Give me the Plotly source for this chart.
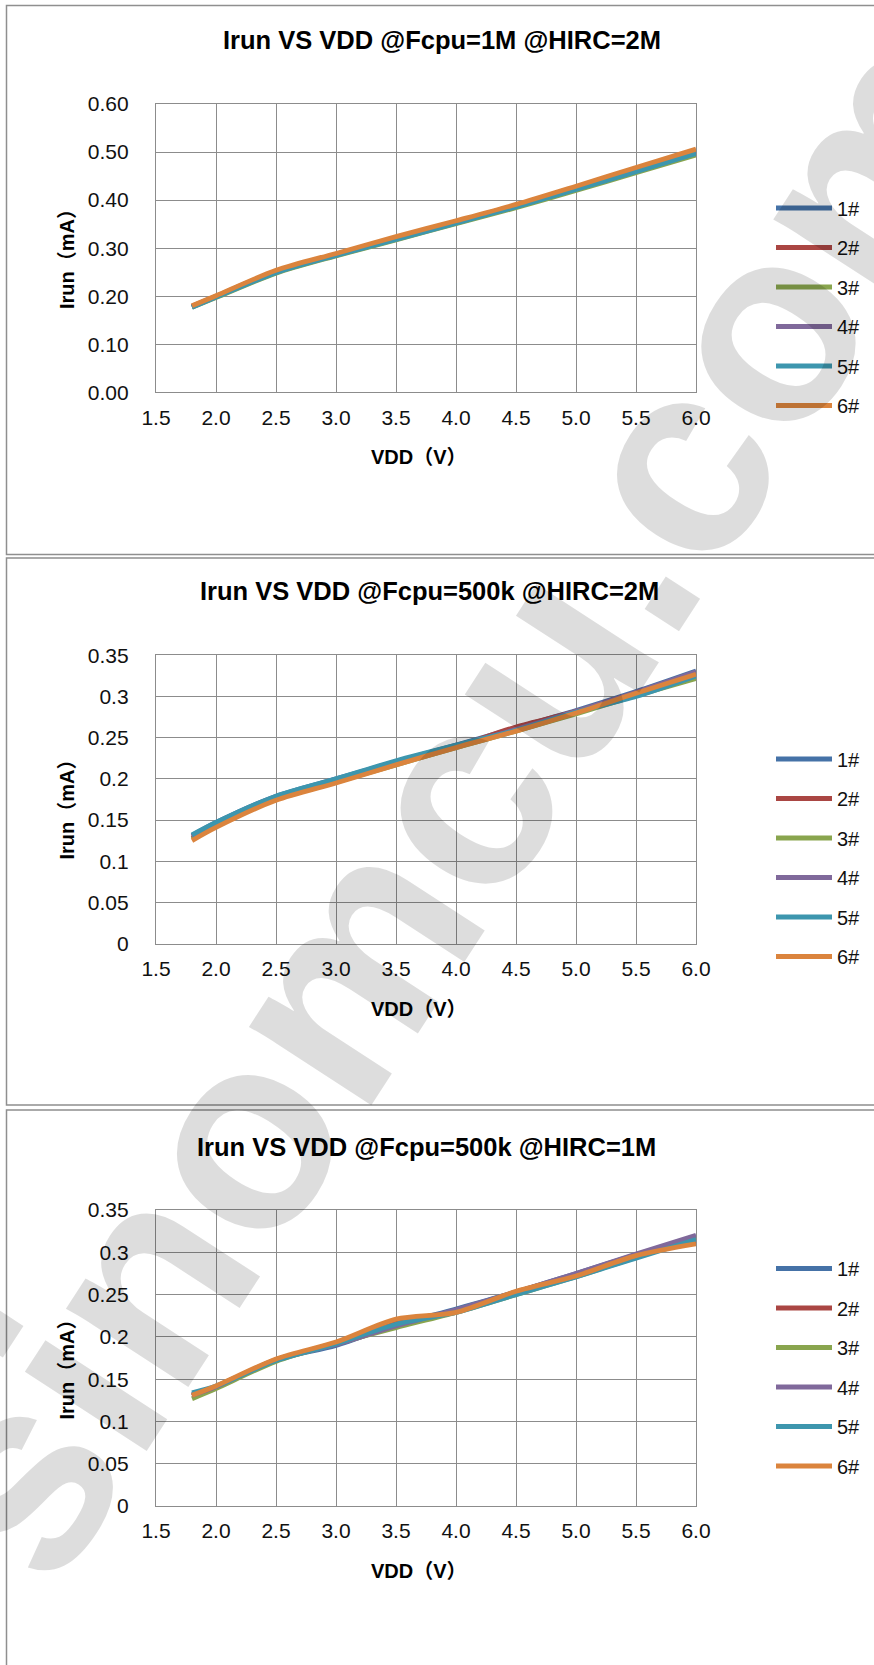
import plotly.graph_objects as go

W, H = 874, 1665

# ---------------- data ----------------
vdd = [1.8, 2.0, 2.5, 3.0, 3.5, 4.0, 4.5, 5.0, 5.5, 6.0]
samples = ["1#", "2#", "3#", "4#", "5#", "6#"]
colors = ["#4572A7", "#AA4643", "#89A54E", "#80699B", "#3D96AE", "#DB843D"]
titles = ["Irun VS VDD @Fcpu=1M @HIRC=2M",
          "Irun VS VDD @Fcpu=500k @HIRC=2M",
          "Irun VS VDD @Fcpu=500k @HIRC=1M"]
x_title = "VDD（V）"
y_title = "Irun（mA）"
x_ticks = [1.5, 2.0, 2.5, 3.0, 3.5, 4.0, 4.5, 5.0, 5.5, 6.0]

# chart 1: Fcpu=1M, HIRC=2M
c1_1 = [0.178, 0.199, 0.250, 0.286, 0.320, 0.354, 0.387, 0.424, 0.462, 0.499]
c1_2 = [0.179, 0.200, 0.252, 0.287, 0.322, 0.355, 0.389, 0.426, 0.465, 0.503]
c1_3 = [0.177, 0.197, 0.248, 0.284, 0.317, 0.351, 0.384, 0.420, 0.457, 0.494]
c1_4 = [0.178, 0.199, 0.251, 0.286, 0.320, 0.354, 0.388, 0.425, 0.463, 0.500]
c1_5 = [0.177, 0.198, 0.249, 0.285, 0.318, 0.352, 0.386, 0.422, 0.459, 0.497]
c1_6 = [0.180, 0.201, 0.254, 0.289, 0.324, 0.357, 0.391, 0.429, 0.468, 0.506]

# chart 2: Fcpu=500k, HIRC=2M
c2_1 = [0.131, 0.147, 0.179, 0.200, 0.221, 0.241, 0.262, 0.283, 0.306, 0.331]
c2_2 = [0.128, 0.144, 0.177, 0.198, 0.219, 0.239, 0.263, 0.282, 0.305, 0.329]
c2_3 = [0.127, 0.143, 0.175, 0.196, 0.217, 0.238, 0.258, 0.279, 0.301, 0.322]
c2_4 = [0.130, 0.146, 0.178, 0.199, 0.220, 0.240, 0.260, 0.282, 0.305, 0.330]
c2_5 = [0.132, 0.147, 0.179, 0.200, 0.222, 0.241, 0.259, 0.281, 0.300, 0.325]
c2_6 = [0.125, 0.141, 0.174, 0.195, 0.217, 0.238, 0.258, 0.280, 0.304, 0.327]

# chart 3: Fcpu=500k, HIRC=1M
c3_1 = [0.132, 0.141, 0.173, 0.190, 0.214, 0.233, 0.253, 0.275, 0.297, 0.319]
c3_2 = [0.130, 0.141, 0.173, 0.193, 0.218, 0.230, 0.253, 0.273, 0.296, 0.313]
c3_3 = [0.127, 0.139, 0.171, 0.192, 0.211, 0.229, 0.250, 0.271, 0.294, 0.316]
c3_4 = [0.131, 0.141, 0.173, 0.191, 0.213, 0.232, 0.253, 0.275, 0.298, 0.320]
c3_5 = [0.134, 0.142, 0.172, 0.192, 0.215, 0.229, 0.250, 0.271, 0.293, 0.315]
c3_6 = [0.131, 0.142, 0.174, 0.194, 0.221, 0.229, 0.254, 0.272, 0.296, 0.310]

chart_series = [[c1_1, c1_2, c1_3, c1_4, c1_5, c1_6],
                [c2_1, c2_2, c2_3, c2_4, c2_5, c2_6],
                [c3_1, c3_2, c3_3, c3_4, c3_5, c3_6]]
y_max = [0.6, 0.35, 0.35]
y_dtick = [0.1, 0.05, 0.05]
y_fmt = [".2f", "", ""]

# ---------------- layout geometry (pixels) ----------------
def px_x(p):
    return p / W

def px_y(p):
    return 1 - p / H

FONT = "Liberation Sans, Arial, Noto Sans CJK SC, sans-serif"
GRID = "#8c8c8c"

geo = [
    dict(top=104.0, bottom=392.3, title=(442, 40.5), ytl=254.6, leg=307.0),
    dict(top=655.4, bottom=943.5, title=(429, 590.5), ytl=805.0, leg=858.0),
    dict(top=1210.0, bottom=1506.1, title=(426.5, 1146.5), ytl=1365.0, leg=1367.5),
]
panels = [(5.5, 554.5), (558.0, 1105.0), (1110.0, 1720.0)]
plot_left, plot_right = 156.0, 696.0

fig = go.Figure()
layout = dict(width=W, height=H,
              margin=dict(l=0, r=0, t=0, b=0, pad=0, autoexpand=False),
              paper_bgcolor="white", plot_bgcolor="white", autosize=False,
              font=dict(family=FONT, color="#000000"),
              annotations=[], shapes=[])

for k in range(3):
    g = geo[k]
    xa = "x" if k == 0 else f"x{k+1}"
    ya = "y" if k == 0 else f"y{k+1}"
    leg = "legend" if k == 0 else f"legend{k+1}"
    for i, vals in enumerate(chart_series[k]):
        fig.add_trace(go.Scatter(
            x=vdd, y=vals, mode="lines", name=samples[i],
            line=dict(color=colors[i], width=4.8, shape="spline", smoothing=0.8),
            xaxis=xa, yaxis=ya, legend=leg, legendgroup=f"c{k}_{i}",
            showlegend=True))
    axis_common = dict(showgrid=True, gridcolor=GRID, gridwidth=1.3,
                       showline=True, linecolor=GRID, linewidth=1.3, mirror=True,
                       zeroline=False, ticks="",
                       tickfont=dict(family=FONT, size=21, color="#111111"))
    layout["xaxis" if k == 0 else f"xaxis{k+1}"] = dict(
        axis_common, range=[1.5, 6.0], tickvals=x_ticks, tickformat=".1f",
        domain=[px_x(plot_left), px_x(plot_right)], anchor=ya,
        ticklabelstandoff=6)
    layout["yaxis" if k == 0 else f"yaxis{k+1}"] = dict(
        axis_common, range=[0, y_max[k]], dtick=y_dtick[k], tick0=0,
        tickformat=y_fmt[k],
        domain=[px_y(g["bottom"]), px_y(g["top"])], anchor=xa,
        ticklabelstandoff=22)
    layout[leg] = dict(x=px_x(771), xanchor="left", y=px_y(g["leg"]),
                       yanchor="middle", font=dict(family=FONT, size=20, color="#111111"),
                       itemwidth=56, tracegroupgap=10.5, bgcolor="rgba(0,0,0,0)")
    # title
    layout["annotations"].append(dict(
        text=f"<b>{titles[k]}</b>", xref="paper", yref="paper",
        x=px_x(g["title"][0]), y=px_y(g["title"][1]), xanchor="center",
        yanchor="middle", showarrow=False,
        font=dict(family=FONT, size=25.5, color="#000000")))
    # x axis title
    layout["annotations"].append(dict(
        text=f"<b>{x_title}</b>", xref="paper", yref="paper",
        x=px_x(419), y=px_y(g["bottom"] + 65), xanchor="center",
        yanchor="middle", showarrow=False,
        font=dict(family=FONT, size=20, color="#000000")))
    # y axis title
    layout["annotations"].append(dict(
        text=f"<b>{y_title}</b>", xref="paper", yref="paper",
        x=px_x(66.5), y=px_y(g["ytl"]), xanchor="center",
        yanchor="middle", showarrow=False, textangle=-90,
        font=dict(family=FONT, size=20, color="#000000")))
    # panel border
    t, b = panels[k]
    layout["shapes"].append(dict(
        type="rect", xref="paper", yref="paper",
        x0=px_x(6.5), x1=px_x(900), y0=px_y(b), y1=px_y(t),
        line=dict(color="#8f8f8f", width=1.5), layer="below"))

# watermark
layout["annotations"].append(dict(
    text="<b>sinomcu.com</b>", xref="paper", yref="paper",
    x=px_x(455), y=px_y(800), xanchor="center", yanchor="middle",
    showarrow=False, textangle=-57,
    font=dict(family=FONT, size=275, color="rgba(0,0,0,0.135)")))

fig.update_layout(**layout)
fig.write_html(
    "out.html",
    config=dict(displayModeBar=False),
    post_script="document.body.style.margin='0px';"
                "document.body.style.overflow='hidden';"
                "document.documentElement.style.overflow='hidden';")
